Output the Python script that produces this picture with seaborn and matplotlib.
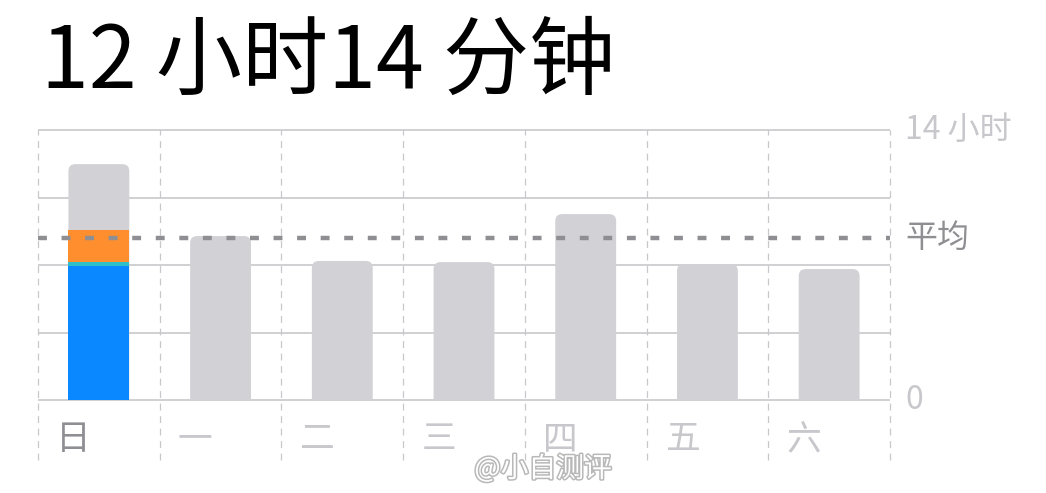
import numpy as np
import pandas as pd
import seaborn as sns
import matplotlib
matplotlib.use('Agg')
import matplotlib.pyplot as plt
from matplotlib.patches import FancyBboxPatch
from matplotlib.transforms import offset_copy
import matplotlib.patheffects as pe

# ---------------- data ----------------
days = ['日', '一', '二', '三', '四', '五', '六']
total_hours = [12.23, 8.50, 7.21, 7.15, 9.64, 7.05, 6.79]
selected_day = '日'
segment_names = ['blue', 'teal', 'orange']
segment_hours = [6.96, 0.20, 1.64]          # breakdown of the selected day
segment_colors = ['#0A88FF', '#2FBFC9', '#FF8F2E']
average_hours = 8.40
grid_hours = [0, 3.5, 7, 10.5, 14]
right_labels = {14: '14 小时', 0: '0'}
avg_label = '平均'
title_text = '12 小时14 分钟'
watermark = '@小自测评'

# ---------------- style ----------------
sns.set_theme(style='white')
plt.rcParams['font.family'] = ['Noto Sans CJK SC', 'DejaVu Sans']

W, H = 1046, 493
fig = plt.figure(figsize=(W / 100, H / 100), dpi=100)
ax = fig.add_axes([38 / W, 93 / H, 852 / W, 270 / H])

GRAY_BAR = '#D1D1D6'
GRID = '#C8C8CC'

df = pd.DataFrame({'day': days, 'hours': total_hours})
sns.barplot(data=df, x='day', y='hours', order=days, color=GRAY_BAR,
            width=0.5, saturation=1, ax=ax, zorder=2, errorbar=None,
            linewidth=0, edgecolor='none')
gray_patches = list(ax.patches)

# stacked segments of the selected day (drawn back to front with cumulative heights)
cum = np.cumsum(segment_hours)
for name, h, col, z in reversed(list(zip(segment_names, cum, segment_colors, [5, 4, 3]))):
    seg = pd.DataFrame({'day': [selected_day], 'hours': [h]})
    sns.barplot(data=seg, x='day', y='hours', order=days, color=col,
                width=0.5, saturation=1, ax=ax, zorder=z, errorbar=None,
                linewidth=0, edgecolor='none')

ax.set_xlim(-0.5, len(days) - 0.5)
ax.set_ylim(0, max(grid_hours))

# rounded tops for grey bars
bb = ax.get_window_extent()
px_per_x = bb.width / (len(days))
px_per_y = bb.height / max(grid_hours)
aspect = px_per_x / px_per_y
r = 7 / px_per_x
for p in gray_patches:
    x, y, w, h = p.get_x(), p.get_y(), p.get_width(), p.get_height()
    p.set_visible(False)
    ext = r * aspect
    fb = FancyBboxPatch((x, y - ext), w, h + ext,
                        boxstyle=f'round,pad=0,rounding_size={r}',
                        mutation_aspect=aspect, facecolor=GRAY_BAR,
                        edgecolor='none', linewidth=0, zorder=2)
    ax.add_patch(fb)

# grid
ax.hlines(grid_hours, -0.5, len(days) - 0.5, colors=GRID, lw=1.2, zorder=1, clip_on=False)
ax.vlines(np.arange(len(days) + 1) - 0.5, -3.1, max(grid_hours), colors=GRID,
          linestyles=(0, (5.5, 4.5)), lw=0.9, zorder=1, clip_on=False)

# average line
ax.hlines(average_hours, -0.5, len(days) - 0.5, colors='#8E8E93', lw=3.2,
          linestyles=(0, (2.0, 3.3)), zorder=6, clip_on=False)

for s in ax.spines.values():
    s.set_visible(False)
ax.set_xticks([])
ax.set_yticks([])
ax.set_xlabel('')
ax.set_ylabel('')

# day labels
for i, d in enumerate(days):
    ax.text(i - 0.5 + 0.15, -2.07, d, ha='left', va='center', fontsize=25,
            fontweight='light',
            color='#8E8E93' if d == selected_day else '#C7C7CC', clip_on=False)

# right labels
tr = offset_copy(ax.transData, fig=fig, x=15, y=0, units='dots')
for v, lab in right_labels.items():
    ax.text(len(days) - 0.5, v, lab, transform=tr, ha='left', va='center',
            fontsize=23, fontweight='light', color='#C7C7CC', clip_on=False)
ax.text(len(days) - 0.5, average_hours, avg_label, transform=tr, ha='left',
        va='center', fontsize=23, fontweight='light', color='#8E8E93', clip_on=False)

# title
fig.text(41 / W, (H - 88) / H, title_text, ha='left', va='baseline',
         fontsize=62, color='black')

# watermark
fig.text(543 / W, (H - 469) / H, watermark, ha='center', va='center',
         fontsize=20, color='white',
         path_effects=[pe.withStroke(linewidth=2.2, foreground='#B8B8B8')])

fig.savefig('out.png', dpi=100)
